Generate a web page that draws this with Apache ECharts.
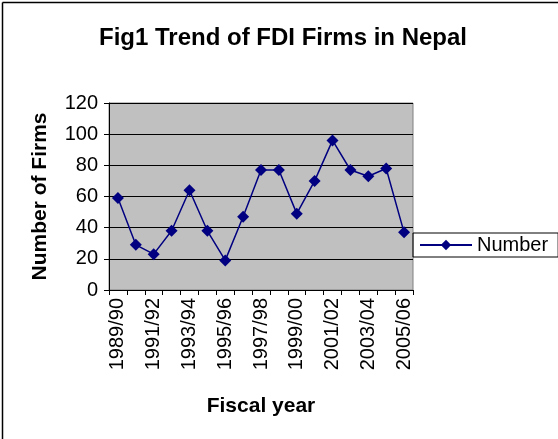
<!DOCTYPE html>
<html>
<head>
<meta charset="utf-8">
<script src="https://cdn.jsdelivr.net/npm/echarts@6/dist/echarts.min.js"></script>
<style>
html,body{margin:0;padding:0;background:#fff;}
#c{width:558px;height:439px;}
</style>
</head>
<body>
<div id="c"></div>
<script>
var categories = ['1989/90','1990/91','1991/92','1992/93','1993/94','1994/95','1995/96','1996/97','1997/98','1998/99','1999/00','2000/01','2001/02','2002/03','2003/04','2004/05','2005/06'];
var numberValues = [59, 29, 23, 38, 64, 38, 19, 47, 77, 77, 49, 70, 96, 77, 73, 78, 37];
var yTicks = [0, 20, 40, 60, 80, 100, 120];

var chart = echarts.init(document.getElementById('c'), null, {renderer: 'canvas'});
var font = 'Liberation Sans, Arial, sans-serif';
chart.setOption({
  animation: false,
  backgroundColor: '#fff',
  title: {
    text: 'Fig1 Trend of FDI Firms in Nepal',
    left: 278, textAlign: 'center', top: 21,
    textStyle: {fontFamily: font, fontSize: 24, fontWeight: 'bold', color: '#000'}
  },
  legend: {
    data: ['Number'],
    left: 413, top: 233,
    orient: 'vertical',
    padding: [2, 10, 2, 6],
    borderColor: '#000', borderWidth: 1,
    itemWidth: 52, itemHeight: 13,
    itemGap: 0,
    textStyle: {fontFamily: font, fontSize: 20, color: '#000'}
  },
  grid: {
    left: 109, right: 145, top: 103, bottom: 149,
    show: true, backgroundColor: '#C0C0C0', borderColor: '#808080', borderWidth: 1
  },
  xAxis: {
    type: 'category',
    data: categories,
    boundaryGap: true,
    name: 'Fiscal year',
    nameLocation: 'middle',
    nameGap: 106,
    nameTextStyle: {fontFamily: font, fontSize: 21, fontWeight: 'bold', color: '#000'},
    axisLine: {lineStyle: {color: '#000', width: 1}},
    axisTick: {show: true, inside: false, length: 5, alignWithLabel: false, interval: 0, lineStyle: {color: '#000'}},
    axisLabel: {rotate: 90, interval: 1, margin: 8, fontFamily: font, fontSize: 20, color: '#000'},
    splitLine: {show: false}
  },
  yAxis: {
    type: 'value',
    min: 0, max: 120, interval: 20,
    name: 'Number of Firms',
    nameLocation: 'middle',
    nameGap: 58,
    nameRotate: 90,
    nameTextStyle: {fontFamily: font, fontSize: 21, fontWeight: 'bold', color: '#000'},
    axisLine: {show: true, lineStyle: {color: '#000', width: 1}},
    axisTick: {show: true, length: 5, lineStyle: {color: '#000'}},
    axisLabel: {margin: 11, fontFamily: font, fontSize: 20, color: '#000',
      formatter: function (v) { return yTicks.indexOf(v) >= 0 ? String(v) : ''; }},
    splitLine: {show: true, lineStyle: {color: '#000', width: 1}}
  },
  series: [{
    name: 'Number',
    type: 'line',
    data: numberValues,
    symbol: 'diamond',
    symbolSize: 12,
    showAllSymbol: true,
    itemStyle: {color: '#000080'},
    lineStyle: {color: '#000080', width: 1.5}
  }],
  graphic: [
    {type: 'line', shape: {x1: 2.5, y1: 2.5, x2: 558, y2: 2.5}, style: {stroke: '#000', lineWidth: 1.5}},
    {type: 'line', shape: {x1: 2.5, y1: 2.5, x2: 2.5, y2: 439}, style: {stroke: '#000', lineWidth: 1.5}}
  ]
});
</script>
</body>
</html>
